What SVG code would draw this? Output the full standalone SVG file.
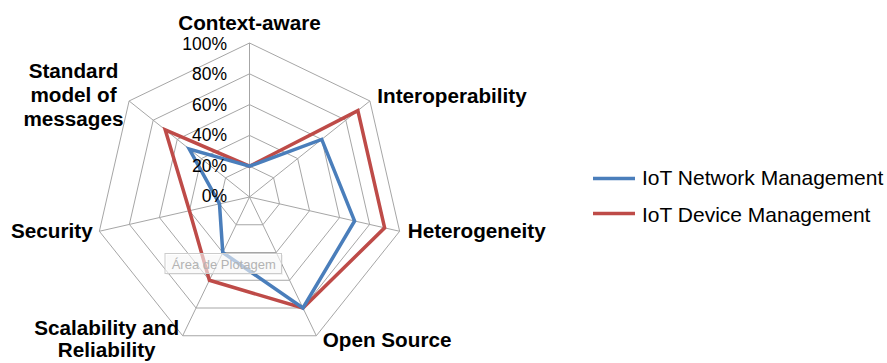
<svg xmlns="http://www.w3.org/2000/svg" width="887" height="363" viewBox="0 0 887 363">
  <style>
    .grid { fill: none; stroke: #a6a6a6; stroke-width: 1; }
    .series { fill: none; stroke-width: 3.5; stroke-linejoin: miter; stroke-linecap: butt; }
    .net { stroke: #4a7ebb; }
    .dev { stroke: #be4b48; }
    .cat { font-family: "Liberation Sans", Arial, sans-serif; font-size: 20.7px; font-weight: bold; fill: #000; }
    .tick { font-family: "Liberation Sans", Arial, sans-serif; font-size: 17.5px; fill: #000; text-anchor: end; }
    .legend { font-family: "Liberation Sans", Arial, sans-serif; font-size: 21px; fill: #000; }
    .hint { font-family: "Liberation Sans", Arial, sans-serif; font-size: 13px; fill: #b3b3b3; }
  </style>
  <rect width="887" height="363" fill="#fff"/>

  <!-- radar grid: 7 spokes, rings every 20% -->
  <g id="grid">
    <polygon class="grid" points="249.5,43 369.9,100.98 399.64,231.27 316.32,335.75 182.68,335.75 99.36,231.27 129.1,100.98"/>
    <polygon class="grid" points="249.5,73.8 345.82,120.19 369.61,224.41 302.95,308 196.05,308 129.39,224.41 153.18,120.19"/>
    <polygon class="grid" points="249.5,104.6 321.74,139.39 339.58,217.56 289.59,280.25 209.41,280.25 159.42,217.56 177.26,139.39"/>
    <polygon class="grid" points="249.5,135.4 297.66,158.59 309.56,210.71 276.23,252.5 222.77,252.5 189.44,210.71 201.34,158.59"/>
    <polygon class="grid" points="249.5,166.2 273.58,177.8 279.53,203.85 262.86,224.75 236.14,224.75 219.47,203.85 225.58,177.8"/>
    <path class="grid" d="M249.5,197 L249.5,43 M249.5,197 L369.9,100.98 M249.5,197 L399.64,231.27 M249.5,197 L316.32,335.75 M249.5,197 L182.68,335.75 M249.5,197 L99.36,231.27 M249.5,197 L129.1,100.98"/>
  </g>

  <!-- data series -->
  <g id="series">
    <polygon id="series-device" class="series dev" points="249.5,166.2 357.86,110.58 384.63,227.84 302.95,308 209.41,280.25 189.44,210.71 165.22,129.79"/>
    <polygon id="series-network" class="series net" points="249.5,166.2 321.74,139.39 354.6,220.99 302.95,308 222.77,252.5 219.47,203.85 189.3,148.99"/>
  </g>

  <!-- value scale -->
  <g id="scale">
    <text class="tick" x="227" y="49.5">100%</text>
    <text class="tick" x="227" y="80">80%</text>
    <text class="tick" x="227" y="110.5">60%</text>
    <text class="tick" x="227" y="141">40%</text>
    <text class="tick" x="227" y="171.5">20%</text>
    <text class="tick" x="227" y="202">0%</text>
  </g>

  <!-- category labels -->
  <g id="categories">
    <text class="cat" x="249.5" y="29.5" text-anchor="middle">Context-aware</text>
    <text class="cat" x="377.3" y="103.3">Interoperability</text>
    <text class="cat" x="407.7" y="238.3">Heterogeneity</text>
    <text class="cat" x="322.7" y="347">Open Source</text>
    <text class="cat" x="106.7" y="335" text-anchor="middle">Scalability and</text>
    <text class="cat" x="106.7" y="356.7" text-anchor="middle">Reliability</text>
    <text class="cat" x="11" y="238.3">Security</text>
    <text class="cat" x="73.5" y="78.3" text-anchor="middle">Standard</text>
    <text class="cat" x="73.5" y="101.7" text-anchor="middle">model of</text>
    <text class="cat" x="73.5" y="126" text-anchor="middle">messages</text>
  </g>

  <!-- plot-area hint box -->
  <g id="plot-area-hint">
    <rect x="166.5" y="255" width="116.5" height="20" fill="#000" fill-opacity="0.05"/>
    <rect x="165" y="253.5" width="116.5" height="20" fill="#fff" fill-opacity="0.6" stroke="#cccccc" stroke-width="1"/>
    <text class="hint" x="171.7" y="269">Área de Plotagem</text>
  </g>

  <!-- legend -->
  <g id="legend">
    <line x1="593" y1="178.5" x2="635" y2="178.5" class="series net"/>
    <text class="legend" x="642" y="185">IoT Network Management</text>
    <line x1="593" y1="213.5" x2="635" y2="213.5" class="series dev"/>
    <text class="legend" x="642" y="221.5">IoT Device Management</text>
  </g>
</svg>
